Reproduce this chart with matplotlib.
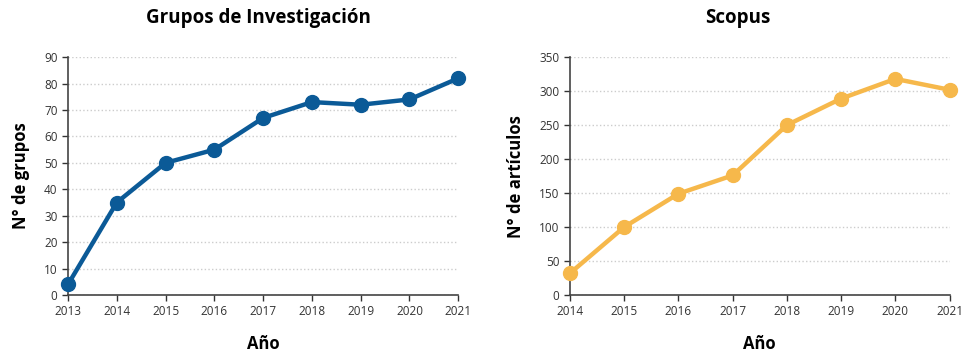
import matplotlib
matplotlib.use("Agg")
import matplotlib.pyplot as plt

plt.rcParams['font.family'] = ['Open Sans', 'DejaVu Sans']

years_grupos = [2013, 2014, 2015, 2016, 2017, 2018, 2019, 2020, 2021]
grupos = [4, 35, 50, 55, 67, 73, 72, 74, 82]
years_scopus = [2014, 2015, 2016, 2017, 2018, 2019, 2020, 2021]
scopus = [32, 100, 149, 176, 250, 289, 318, 302]

title_left = "Grupos de Investigación"
title_right = "Scopus"
ylabel_left = "N° de grupos"
ylabel_right = "N° de artículos"
xlabel = "Año"

fig = plt.figure(figsize=(9.66, 3.55), dpi=100)
ax1 = fig.add_axes([0.0704, 0.169, 0.404, 0.670])
ax2 = fig.add_axes([0.590, 0.169, 0.393, 0.670])

def style(ax, years, vals, color, ymax, ystep, ylabel):
    ax.plot(years, vals, color=color, lw=3.2, marker='o', ms=10, clip_on=False, zorder=3)
    ax.set_xlim(years[0], years[-1])
    ax.set_ylim(0, ymax)
    ax.set_xticks(years)
    ax.set_yticks(range(0, ymax + 1, ystep))
    ax.tick_params(labelsize=8.5, colors='#333333', length=4, width=1)
    for s in ['top', 'right']:
        ax.spines[s].set_visible(False)
    for s in ['left', 'bottom']:
        ax.spines[s].set_color('#444444')
        ax.spines[s].set_linewidth(1.2)
    ax.yaxis.grid(True, linestyle=':', color='#cccccc', lw=1)
    ax.set_axisbelow(True)
    ax.set_ylabel(ylabel, fontsize=12, fontweight='bold', labelpad=10)
    ax.set_xlabel(xlabel, fontsize=12, fontweight='bold', labelpad=12)

style(ax1, years_grupos, grupos, '#0b5a97', 90, 10, ylabel_left)
style(ax2, years_scopus, scopus, '#f6b84b', 350, 50, ylabel_right)

fig.text(258 / 966, 1 - 18 / 355, title_left, ha='center', va='center', fontsize=13.5, fontweight='bold')
fig.text(738 / 966, 1 - 18 / 355, title_right, ha='center', va='center', fontsize=13.5, fontweight='bold')

fig.savefig("out.png", dpi=100, facecolor='white')
